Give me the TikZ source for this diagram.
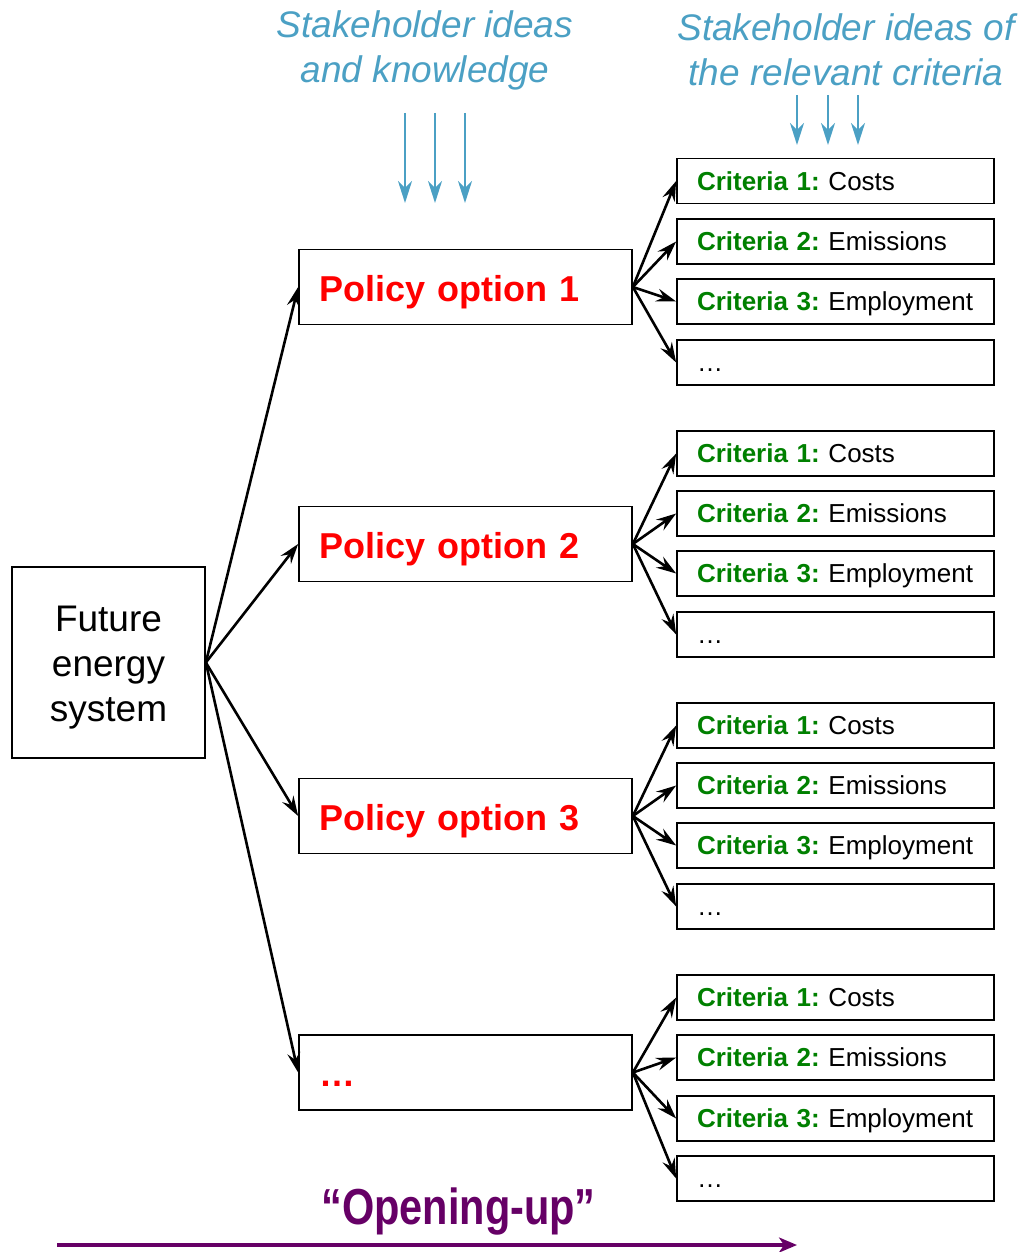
\documentclass[tikz,border=0pt]{standalone}
\usepackage{fontspec}
\setmainfont{Liberation Sans}
\usetikzlibrary{arrows.meta}
\definecolor{critgreen}{RGB}{0,128,0}
\definecolor{skblue}{RGB}{75,160,196}
\definecolor{openpurple}{RGB}{102,0,102}
\frenchspacing
\tikzset{
  critbox/.style={draw, line width=1.7pt, minimum width=317pt, minimum height=45pt, inner sep=0pt, inner xsep=20pt, text width=277pt, align=left, text height=18.5pt, text depth=0pt, font=\fontsize{26}{31}\selectfont\frenchspacing},
  polbox/.style={draw, line width=1.7pt, minimum width=333pt, minimum height=75pt, inner sep=0pt, inner xsep=20pt, text width=293pt, align=left, text height=28pt, text depth=0pt, text=red, font=\fontsize{36}{43}\selectfont\bfseries},
  futbox/.style={draw, line width=1.7pt, minimum width=193pt, minimum height=191pt, inner sep=0pt},
  futtext/.style={align=center, inner sep=0pt, font=\fontsize{37}{45}\selectfont},
  conn/.style={line width=2.6pt, -{Stealth[length=20pt,width=13pt,inset=7pt]}},
  bluearrow/.style={draw=skblue, line width=2.4pt, -{Stealth[length=22pt,width=14pt,inset=7pt]}},
  bluetext/.style={text=skblue, align=center, font=\fontsize{37}{45}\selectfont\itshape, inner sep=0pt},
}
\newcommand{\crit}[2]{\mbox{\textcolor{critgreen}{\bfseries Criteria #1:} #2}}
\begin{document}
\begin{tikzpicture}[x=1pt,y=-1pt]
\useasboundingbox (0,0) rectangle (1021,1252);
% main nodes
\node[futbox] (fut) at (108.5,662.5) {};
\node[futtext] (futt) at (108.5,668) {Future\\energy\\system};
\node[polbox] (p1) at (465.5,287) {Policy option 1};
\node[polbox] (p2) at (465.5,544) {Policy option 2};
\node[polbox] (p3) at (465.5,816) {Policy option 3};
\node[polbox] (p4) at (465.5,1072.5) {\dots};
% criteria
\foreach \g/\ya/\yb/\yc/\yd in {1/181/241.5/301.5/362.5, 2/453.5/513.5/573.5/634.5, 3/725.5/785.5/845.5/906.5, 4/997.5/1057.5/1118.5/1178.5}{
  \node[critbox] (c\g a) at (835.5,\ya) {\crit{1}{Costs}};
  \node[critbox] (c\g b) at (835.5,\yb) {\crit{2}{Emissions}};
  \node[critbox] (c\g c) at (835.5,\yc) {\crit{3}{Employment}};
  \node[critbox] (c\g d) at (835.5,\yd) {\dots};
  \foreach \k in {a,b,c,d}{
    \draw[conn] (p\g.east) -- (c\g\k.west);
  }
}
\foreach \g in {1,2,3,4}{
  \draw[conn] (fut.east) -- (p\g.west);
}
% stakeholder texts
\node[bluetext] (sk1) at (425,50) {Stakeholder ideas\\and knowledge};
\node[bluetext] (sk2) at (846,50) {Stakeholder ideas of\\the relevant criteria};
\foreach \x/\n in {405/a,435/b,465/c}{
  \coordinate (bs\n) at (\x,113);
  \coordinate (be\n) at (\x,203);
  \draw[bluearrow] (bs\n) -- (be\n);
}
\foreach \x/\n in {797/a,828/b,858/c}{
  \coordinate (rs\n) at (\x,95);
  \coordinate (re\n) at (\x,145);
  \draw[bluearrow] (rs\n) -- (re\n);
}
% opening-up
\node[text=openpurple, font=\fontsize{41.5}{48}\selectfont\bfseries, inner sep=0pt] (open) at (458.5,1212) {\scalebox{1}[1.22]{“Opening-up”}};
\coordinate (oa) at (57,1245);
\coordinate (ob) at (797,1245);
\draw[draw=openpurple, line width=4pt, -{Stealth[length=18pt,width=15pt,inset=5pt]}] (oa) -- (ob);
\end{tikzpicture}
\end{document}
